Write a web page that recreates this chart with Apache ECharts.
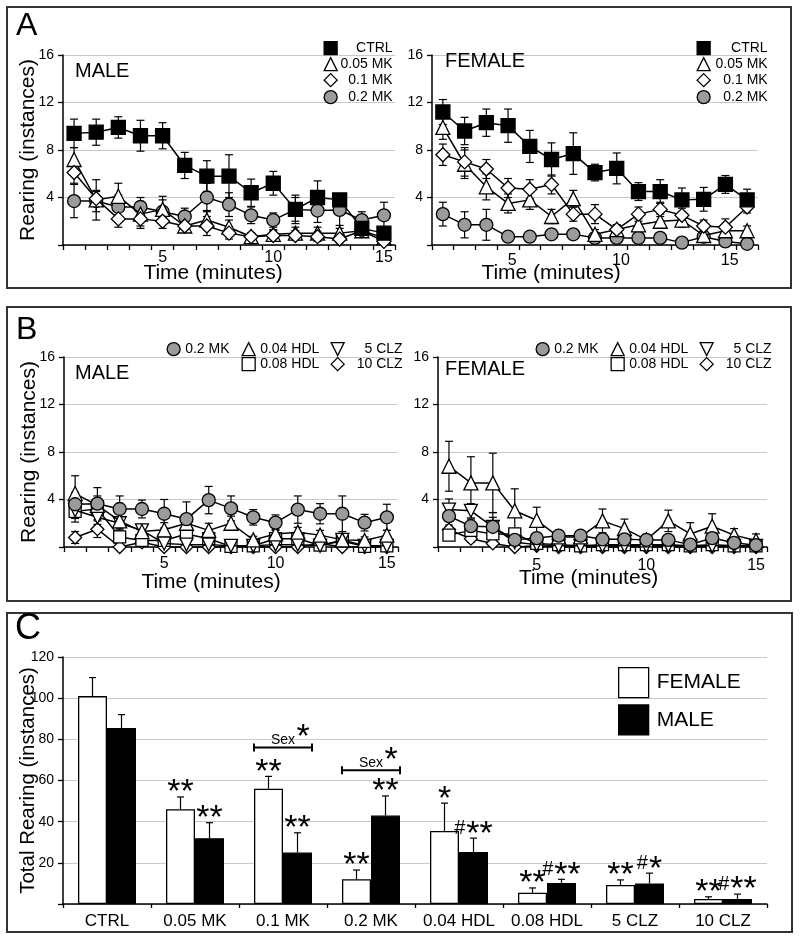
<!DOCTYPE html>
<html><head><meta charset="utf-8">
<script src="https://cdn.jsdelivr.net/npm/echarts/dist/echarts.min.js"></script>
<style>html,body{margin:0;padding:0;background:#fff}#c{width:800px;height:940px}</style>
</head><body><div id="c"></div>
<script>
// ---------------- DATA ----------------
const minutes = ['1','2','3','4','5','6','7','8','9','10','11','12','13','14','15'];

// Panel A - male
const aMaleCtrl    = [9.4, 9.5, 9.9, 9.2, 9.2, 6.7, 5.8, 5.8, 4.4, 5.2, 3.0, 4.0, 3.8, 1.4, 1.0];
const aMaleCtrlErr = [1.2, 1.1, 0.9, 1.3, 1.1, 1.1, 1.3, 1.8, 1.15, 1.0, 1.2, 1.4, 0.5, 0.6, 0.5];
const aMale005     = [7.2, 3.8, 4.1, 2.6, 3.0, 1.6, 2.1, 1.5, 0.7, 0.9, 1.0, 1.0, 1.0, 1.2, 0.6];
const aMale005Err  = [1.0, 1.7, 1.1, 1.0, 1.1, 0.5, 0.8, 0.6, 0.3, 0.4, 0.5, 0.5, 0.4, 0.5, 0.4];
const aMale01      = [6.1, 3.9, 2.2, 2.2, 2.0, 1.6, 1.6, 1.0, 0.7, 0.8, 0.8, 0.7, 0.5, 1.2, 0.3];
const aMale01Err   = [0.9, 0.6, 0.7, 0.8, 0.6, 0.5, 0.8, 0.5, 0.3, 0.4, 0.4, 0.4, 0.3, 0.4, 0.2];
const aMale02      = [3.7, 3.7, 3.2, 3.2, 2.8, 2.4, 4.0, 3.4, 2.5, 2.1, 3.0, 2.9, 2.95, 2.1, 2.5];
const aMale02Err   = [1.4, 0.9, 1.0, 0.8, 1.0, 0.7, 1.2, 1.0, 0.7, 0.6, 1.0, 1.0, 1.3, 0.7, 1.1];

// Panel A - female
const aFemCtrl    = [11.2, 9.6, 10.3, 10.05, 8.3, 7.2, 7.7, 6.1, 6.45, 4.5, 4.5, 3.8, 3.85, 5.1, 3.8];
const aFemCtrlErr = [1.05, 1.15, 1.15, 1.4, 1.35, 1.4, 1.75, 0.7, 1.3, 0.75, 1.0, 1.0, 1.0, 0.75, 0.9];
const aFem005     = [9.9, 6.8, 4.9, 3.5, 3.8, 2.4, 3.9, 0.9, 1.3, 1.7, 2.0, 2.1, 0.8, 1.2, 1.2];
const aFem005Err  = [1.0, 1.2, 1.1, 0.8, 0.8, 0.6, 0.7, 0.4, 0.4, 0.5, 0.6, 0.6, 0.4, 0.5, 0.4];
const aFem01      = [7.6, 7.0, 6.4, 4.8, 4.7, 5.1, 2.6, 2.6, 1.3, 2.6, 3.0, 2.5, 1.6, 1.5, 3.2];
const aFem01Err   = [0.9, 1.2, 0.8, 0.8, 0.8, 0.8, 0.6, 0.8, 0.4, 0.6, 0.6, 0.6, 0.5, 0.7, 0.5];
const aFem02      = [2.6, 1.7, 1.7, 0.7, 0.7, 0.9, 0.9, 0.6, 0.6, 0.6, 0.6, 0.2, 0.7, 0.3, 0.1];
const aFem02Err   = [1.0, 1.1, 1.3, 0.3, 0.3, 0.3, 0.3, 0.3, 0.3, 0.3, 0.3, 0.2, 0.3, 0.2, 0.1];

// Panel B - male
const bMale02      = [3.6, 3.65, 3.2, 3.2, 2.8, 2.35, 3.95, 3.25, 2.5, 2.05, 3.15, 2.8, 2.8, 2.05, 2.5];
const bMale02Err   = [1.0, 1.35, 1.1, 0.75, 1.2, 1.45, 1.15, 1.05, 0.65, 0.65, 1.15, 0.85, 1.5, 0.7, 1.1];
const bMale004H    = [4.5, 3.5, 2.2, 1.3, 1.45, 2.0, 1.4, 2.0, 0.6, 1.1, 1.25, 1.0, 0.6, 0.55, 1.0];
const bMale004HErr = [1.5, 0.8, 0.6, 0.5, 0.6, 0.6, 0.6, 0.6, 0.3, 0.4, 0.4, 0.4, 0.3, 0.3, 0.4];
const bMale008H    = [3.0, 3.2, 0.85, 0.55, 0.55, 1.1, 0.7, 0.05, 0.1, 0.7, 0.7, 0.15, 0.5, 0.05, 0.1];
const bMale008HErr = [0.9, 0.6, 0.5, 0.4, 0.3, 0.4, 0.4, 0.1, 0.1, 0.3, 0.3, 0.1, 0.3, 0.1, 0.1];
const bMale5C      = [3.1, 2.5, 2.0, 1.4, 0.3, 0.2, 0.2, 0.1, 0.1, 0.2, 0.2, 0.1, 0.6, 0.1, 0.1];
const bMale5CErr   = [0.7, 0.6, 0.5, 0.5, 0.2, 0.1, 0.1, 0.1, 0.1, 0.1, 0.1, 0.1, 0.3, 0.1, 0.1];
const bMale10C     = [0.8, 1.5, 0.0, 0.4, 0.0, 0.0, 0.0, 0.0, 0.0, 0.0, 0.0, 0.3, 0.0, 0.0, 0.0];
const bMale10CErr  = [0.5, 0.7, 0.0, 0.3, 0.0, 0.0, 0.0, 0.0, 0.0, 0.0, 0.0, 0.2, 0.0, 0.0, 0.0];

// Panel B - female
const bFem02      = [2.6, 1.75, 1.7, 0.6, 0.75, 0.95, 0.95, 0.65, 0.65, 0.6, 0.6, 0.2, 0.75, 0.35, 0.15];
const bFem02Err   = [0.9, 0.6, 0.8, 0.3, 0.3, 0.3, 0.3, 0.3, 0.3, 0.2, 0.2, 0.1, 0.3, 0.2, 0.1];
const bFem004H    = [6.8, 5.4, 5.4, 3.05, 2.25, 0.85, 0.85, 2.2, 1.55, 0.6, 2.2, 1.1, 1.75, 1.0, 0.55];
const bFem004HErr = [2.1, 2.2, 2.5, 1.85, 1.1, 0.3, 0.3, 1.0, 0.8, 0.3, 0.9, 0.95, 1.05, 0.55, 0.55];
const bFem008H    = [1.0, 1.4, 1.1, 1.1, 0.3, 0.2, 0.1, 0.2, 0.2, 0.2, 0.2, 0.1, 0.2, 0.1, 0.1];
const bFem008HErr = [0.4, 0.4, 0.5, 0.4, 0.2, 0.1, 0.1, 0.1, 0.1, 0.1, 0.1, 0.1, 0.1, 0.1, 0.1];
const bFem5C      = [3.15, 3.05, 1.7, 0.4, 0.2, 0.1, 0.1, 0.1, 0.1, 0.1, 0.1, 0.1, 0.1, 0.1, 0.1];
const bFem5CErr   = [0.9, 0.6, 1.2, 0.3, 0.1, 0.1, 0.1, 0.1, 0.1, 0.1, 0.1, 0.1, 0.1, 0.1, 0.1];
const bFem10C     = [1.45, 0.7, 0.3, 0.0, 0.1, 0.0, 0.0, 0.0, 0.0, 0.0, 0.0, 0.0, 0.0, 0.0, 0.0];
const bFem10CErr  = [0.4, 0.3, 0.2, 0.0, 0.1, 0.0, 0.0, 0.0, 0.0, 0.0, 0.0, 0.0, 0.0, 0.0, 0.0];

// Panel C
const groups     = ['CTRL', '0.05 MK', '0.1 MK', '0.2 MK', '0.04 HDL', '0.08 HDL', '5 CLZ', '10 CLZ'];
const cFemale    = [101, 46, 56, 12, 35.5, 5.5, 9.2, 2.4];
const cFemaleErr = [9, 6, 6, 4.5, 13.5, 2.3, 2.5, 1.1];
const cMale      = [85.5, 32, 25, 43, 25.3, 10.2, 10, 2.4];
const cMaleErr   = [6.5, 7.5, 9.6, 9.5, 6.7, 1.8, 5, 2.4];
const cFemaleSig = ['', '**', '**', '**', '*', '**', '**', '**'];
const cMaleSig   = ['', '**', '**', '**', '#**', '#**', '#*', '#**'];
const sexTests   = [['0.1 MK', 76], ['0.2 MK', 65]];

// ---------------- STYLE ----------------
const FONT = 'Liberation Sans';
const GRAY = '#9b9b9b';
const BAR_W = 29;
const STAR_FONT = '34px "Liberation Sans"';
const HASH_FONT = '20px "Liberation Sans"';

const mctx = document.createElement('canvas').getContext('2d');
function measure(t, f) { mctx.font = f; return mctx.measureText(t).width; }

function lineS(name, data, ax, symbol, fill, z, size) {
  return {type: 'line', name, xAxisIndex: ax, yAxisIndex: ax, data, symbol, symbolSize: size || 13, z,
    showSymbol: true, lineStyle: {color: '#000', width: 1.5},
    itemStyle: {color: fill, borderColor: '#000', borderWidth: 1.3},
    emphasis: {disabled: true}, silent: true, animation: false};
}
function errS(vals, errs, ax, z) {
  return {type: 'custom', xAxisIndex: ax, yAxisIndex: ax, z, silent: true, animation: false,
    data: vals.map((v, i) => [i, Math.max(0, v - errs[i]), v + errs[i]]),
    renderItem(params, api) {
      const i = api.value(0);
      const t = api.coord([i, api.value(2)]);
      const b = api.coord([i, api.value(1)]);
      const w = 4, st = {stroke: '#000', lineWidth: 1.2};
      return {type: 'group', children: [
        {type: 'line', shape: {x1: t[0], y1: t[1], x2: b[0], y2: b[1]}, style: st},
        {type: 'line', shape: {x1: t[0] - w, y1: t[1], x2: t[0] + w, y2: t[1]}, style: st},
        {type: 'line', shape: {x1: b[0] - w, y1: b[1], x2: b[0] + w, y2: b[1]}, style: st}
      ]};
    }};
}
function sigText(s, cx, yTop) {
  const hash = s.indexOf('#') === 0 ? '#' : '';
  const stars = s.replace('#', '');
  const hw = hash ? measure('#', HASH_FONT) + 1 : 0;
  const sw = measure(stars, STAR_FONT);
  const x0 = cx - (hw + sw) / 2;
  const els = [];
  if (hash) els.push({type: 'text', x: x0, y: yTop - 10,
    style: {text: '#', font: HASH_FONT, fill: '#000', align: 'left', verticalAlign: 'middle'}});
  els.push({type: 'text', x: x0 + hw, y: yTop - 4,
    style: {text: stars, font: STAR_FONT, fill: '#000', align: 'left', verticalAlign: 'middle'}});
  return els;
}
function barErr(vals, errs, side, sigs) {
  return {type: 'custom', xAxisIndex: 4, yAxisIndex: 4, z: 5, silent: true, animation: false,
    data: vals.map((v, i) => [i, v, v + errs[i]]),
    renderItem(params, api) {
      const i = api.value(0);
      const t = api.coord([i, api.value(2)]);
      const b = api.coord([i, api.value(1)]);
      const x = t[0] + side * BAR_W / 2;
      const st = {stroke: '#000', lineWidth: 1.2};
      const ch = [
        {type: 'line', shape: {x1: x, y1: b[1], x2: x, y2: t[1]}, style: st},
        {type: 'line', shape: {x1: x - 3.5, y1: t[1], x2: x + 3.5, y2: t[1]}, style: st}
      ];
      const s = sigs[params.dataIndex];
      if (s) ch.push(...sigText(s, x, t[1]));
      return {type: 'group', children: ch};
    }};
}

function xMin(gi, labelMargin, labelShift, nameGap, nameShift) {
  return {type: 'category', gridIndex: gi, data: minutes, boundaryGap: true,
    axisLine: {show: true, lineStyle: {color: '#000', width: 1.5}},
    axisTick: {show: true, interval: 0, length: 5, lineStyle: {color: '#000', width: 1.3}},
    axisLabel: {interval: (idx, v) => Number(v) % 5 === 0, fontSize: 16, color: '#000', fontFamily: FONT,
      margin: labelMargin, padding: [0, labelShift * 2, 0, 0]},
    splitLine: {show: false},
    name: 'Time (minutes)', nameLocation: 'middle', nameGap, nameMoveOverlap: false,
    nameTextStyle: {fontSize: 21, color: '#000', fontFamily: FONT, padding: [0, nameShift * 2, 0, 0]}};
}
function yVal(gi, max, interval, name, nameSize) {
  return {type: 'value', gridIndex: gi, min: 0, max, interval,
    axisLine: {show: true, lineStyle: {color: '#000', width: 1.5}},
    axisTick: {show: true, length: 5, lineStyle: {color: '#000', width: 1.3}},
    axisLabel: {fontSize: 14, color: '#000', fontFamily: FONT, margin: 9,
      formatter: v => v === 0 ? '' : String(v)},
    splitLine: {show: true, lineStyle: {color: '#c8c8c8', width: 1}},
    name: name || '', nameLocation: 'middle', nameGap: 24, nameMoveOverlap: false,
    nameTextStyle: {fontSize: nameSize || 21, color: '#000', fontFamily: FONT}};
}
function legendItem(name, icon, iconCx, iconCy, textW, align) {
  return {left: iconCx - 6.5, top: iconCy - 7, padding: 0, selectedMode: false,
    itemWidth: 13, itemHeight: 13, data: [{name, icon}],
    itemStyle: {borderColor: '#000', borderWidth: 1.3},
    formatter: n => '{t|' + n + '}',
    textStyle: {rich: {t: {width: textW, align: align || 'left', fontSize: 14, fontFamily: FONT, color: '#000'}}}};
}
const INV_TRI = 'path://M-1,-1L1,-1L0,1Z';

// ---------------- GRIDS / AXES ----------------
const grids = [
  {left: 63, top: 55, width: 332, height: 190},
  {left: 432, top: 55, width: 326, height: 190},
  {left: 64, top: 357, width: 334, height: 190},
  {left: 438, top: 357, width: 329, height: 190},
  {left: 63, top: 657, width: 704, height: 247}
].map(g => Object.assign({outerBoundsMode: 'none', containLabel: false}, g));

const xAxes = [
  xMin(0, 5, 0, 17.5, 16),
  xMin(1, 8, 17.5, 17.5, 44),
  xMin(2, 9, 0, 24.5, 20),
  xMin(3, 11, 0, 20.5, 14),
  {type: 'category', gridIndex: 4, data: groups, boundaryGap: true,
    axisLine: {show: true, lineStyle: {color: '#000', width: 1.5}},
    axisTick: {show: true, interval: 0, length: 4, lineStyle: {color: '#000', width: 1.3}},
    axisLabel: {interval: 0, fontSize: 17, color: '#000', fontFamily: FONT, margin: 9},
    splitLine: {show: false}}
];
const yAxes = [
  yVal(0, 16, 4, 'Rearing (instances)'),
  yVal(1, 16, 4, ''),
  yVal(2, 16, 4, 'Rearing (instances)'),
  yVal(3, 16, 4, ''),
  yVal(4, 120, 20, 'Total Rearing (instances)', 20.5)
];

// ---------------- SERIES ----------------
const series = [];
function panelA(ax, ctrl, ctrlE, m005, m005E, m01, m01E, m02, m02E) {
  series.push(errS(m02, m02E, ax, 2), lineS('0.2 MK', m02, ax, 'circle', GRAY, 3));
  series.push(errS(m005, m005E, ax, 2), lineS('0.05 MK', m005, ax, 'triangle', '#fff', 4, 14));
  series.push(errS(m01, m01E, ax, 2), lineS('0.1 MK', m01, ax, 'diamond', '#fff', 5, 14));
  series.push(errS(ctrl, ctrlE, ax, 2), lineS('CTRL', ctrl, ax, 'rect', '#000', 6, 14));
}
panelA(0, aMaleCtrl, aMaleCtrlErr, aMale005, aMale005Err, aMale01, aMale01Err, aMale02, aMale02Err);
panelA(1, aFemCtrl, aFemCtrlErr, aFem005, aFem005Err, aFem01, aFem01Err, aFem02, aFem02Err);

function panelB(ax, c10, c10E, h008, h008E, c5, c5E, h004, h004E, m02, m02E) {
  series.push(errS(c10, c10E, ax, 2), lineS('10 CLZ', c10, ax, 'diamond', '#fff', 3));
  series.push(errS(h008, h008E, ax, 2), lineS('0.08 HDL', h008, ax, 'rect', '#fff', 4, 12));
  series.push(errS(c5, c5E, ax, 2), lineS('5 CLZ', c5, ax, INV_TRI, '#fff', 5));
  series.push(errS(h004, h004E, ax, 2), lineS('0.04 HDL', h004, ax, 'triangle', '#fff', 6, 14));
  series.push(errS(m02, m02E, ax, 2), lineS('0.2 MK', m02, ax, 'circle', GRAY, 7));
}
panelB(2, bMale10C, bMale10CErr, bMale008H, bMale008HErr, bMale5C, bMale5CErr, bMale004H, bMale004HErr, bMale02, bMale02Err);
panelB(3, bFem10C, bFem10CErr, bFem008H, bFem008HErr, bFem5C, bFem5CErr, bFem004H, bFem004HErr, bFem02, bFem02Err);

series.push({type: 'bar', name: 'FEMALE', xAxisIndex: 4, yAxisIndex: 4, data: cFemale, barWidth: BAR_W, barGap: '0%',
  itemStyle: {color: '#fff', borderColor: '#000', borderWidth: 1.3}, z: 3, silent: true, animation: false});
series.push({type: 'bar', name: 'MALE', xAxisIndex: 4, yAxisIndex: 4, data: cMale, barWidth: BAR_W, barGap: '0%',
  itemStyle: {color: '#000', borderColor: '#000', borderWidth: 1.3}, z: 3, silent: true, animation: false});
series.push(barErr(cFemale, cFemaleErr, -1, cFemaleSig));
series.push(barErr(cMale, cMaleErr, 1, cMaleSig));
series.push({type: 'custom', xAxisIndex: 4, yAxisIndex: 4, z: 6, silent: true, animation: false,
  data: sexTests.map(d => [groups.indexOf(d[0]), d[1]]),
  renderItem(params, api) {
    const p = api.coord([api.value(0), api.value(1)]);
    const x1 = p[0] - BAR_W, x2 = p[0] + BAR_W, y = p[1];
    const st = {stroke: '#000', lineWidth: 2};
    return {type: 'group', children: [
      {type: 'line', shape: {x1, y1: y, x2, y2: y}, style: st},
      {type: 'line', shape: {x1, y1: y - 4, x2: x1, y2: y + 4}, style: st},
      {type: 'line', shape: {x1: x2, y1: y - 4, x2, y2: y + 4}, style: st},
      {type: 'text', x: p[0], y: y - 7, style: {text: 'Sex', font: '14px "Liberation Sans"', fill: '#000', align: 'center', verticalAlign: 'middle'}},
      {type: 'text', x: p[0] + 20, y: y - 9.5, style: {text: '*', font: STAR_FONT, fill: '#000', align: 'center', verticalAlign: 'middle'}}
    ]};
  }});

// ---------------- LEGENDS ----------------
const legends = [];
function legendA(cx, textRight) {
  const ys = [48, 64, 80, 97];
  const items = [['CTRL', 'rect'], ['0.05 MK', 'triangle'], ['0.1 MK', 'diamond'], ['0.2 MK', 'circle']];
  items.forEach((it, k) => legends.push(legendItem(it[0], it[1], cx, ys[k], textRight - (cx + 11.5), 'right')));
}
legendA(330, 392);
legendA(703, 767);
function legendB(dx) {
  legends.push(legendItem('0.2 MK', 'circle', 173 + dx, 349, 46));
  legends.push(legendItem('0.04 HDL', 'triangle', 248 + dx, 349, 62));
  legends.push(legendItem('5 CLZ', INV_TRI, 337 + dx, 349, 402 - 348.5, 'right'));
  legends.push(legendItem('0.08 HDL', 'rect', 248 + dx, 364, 62));
  legends.push(legendItem('10 CLZ', 'diamond', 337 + dx, 364, 402 - 348.5, 'right'));
}
legendB(0);
legendB(369);
legends.push({left: 618, top: 667, padding: 0, orient: 'vertical', selectedMode: false,
  itemWidth: 30, itemHeight: 30, itemGap: 6, data: [{name: 'FEMALE', icon: 'rect'}, {name: 'MALE', icon: 'rect'}],
  itemStyle: {borderColor: '#000', borderWidth: 1.3},
  textStyle: {fontSize: 21, fontFamily: FONT, color: '#000', padding: [0, 0, 0, 3]}});

// ---------------- TITLES ----------------
function ttl(text, left, top, size) {
  return {text, left, top, padding: 0, textStyle: {fontSize: size, fontWeight: 'normal', fontFamily: FONT, color: '#000'}};
}
const titles = [
  ttl('A', 16, 10, 32), ttl('B', 16, 314, 32), ttl('C', 15, 611, 36),
  ttl('MALE', 75, 61, 20), ttl('FEMALE', 445, 51, 20),
  ttl('MALE', 75, 363, 20), ttl('FEMALE', 445, 359, 20)
];

const chart = echarts.init(document.getElementById('c'), null, {renderer: 'canvas'});
chart.setOption({
  animation: false,
  backgroundColor: '#fff',
  textStyle: {fontFamily: FONT},
  title: titles,
  legend: legends,
  grid: grids,
  xAxis: xAxes,
  yAxis: yAxes,
  series,
  graphic: [
    {type: 'rect', shape: {x: 7, y: 7, width: 784, height: 281}, style: {fill: 'none', stroke: '#333', lineWidth: 2}, silent: true},
    {type: 'rect', shape: {x: 7, y: 307, width: 784, height: 294}, style: {fill: 'none', stroke: '#333', lineWidth: 2}, silent: true},
    {type: 'rect', shape: {x: 7, y: 613, width: 785, height: 319}, style: {fill: 'none', stroke: '#333', lineWidth: 2}, silent: true}
  ]
});
</script></body></html>
